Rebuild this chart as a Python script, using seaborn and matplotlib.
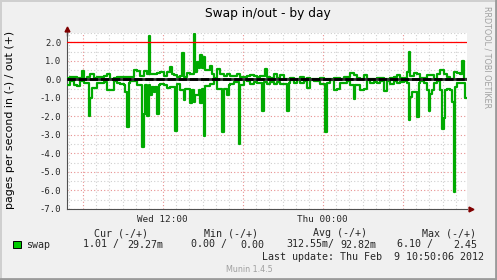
import numpy as np
import pandas as pd
import matplotlib
matplotlib.use("Agg")
import matplotlib.pyplot as plt
import matplotlib.dates as mdates
import matplotlib.transforms as mtransforms
from matplotlib.ticker import MultipleLocator, FuncFormatter
from matplotlib.patches import Rectangle
import seaborn as sns

# ---------------- data (7.5-minute samples, pages/s) ----------------
start_time = "2012-02-08 04:50:06"
sample_step = "450s"
swap_in = [
    0.29, 0.29, 0.10, 0.10, 0.30, 0.30, 0.38, 0.38, 0.10, 0.10, 0.20, 0.20, 0.20, 1.96, 1.02, 0.45, 0.45, 0.45, 0.20, 0.20,
    0.22, 0.22, 0.15, 0.15, 0.56, 0.56, 0.56, 0.56, 0.10, 0.10, 0.20, 0.20, 0.27, 0.27, 0.30, 0.70, 2.56, 0.20, 0.10, 0.10,
    0.10, 0.10, 0.30, 0.30, 0.30, 3.65, 1.87, 0.30, 1.96, 0.30, 0.87, 0.40, 0.70, 0.40, 1.87, 0.30, 0.25, 0.25, 0.33, 0.33,
    0.45, 0.45, 0.42, 0.42, 0.40, 2.78, 0.25, 0.25, 0.60, 0.60, 1.10, 0.50, 0.50, 0.50, 1.29, 0.60, 1.24, 0.87, 0.87, 0.60,
    1.29, 0.50, 3.05, 0.35, 0.35, 0.35, 0.25, 0.25, 0.05, 0.05, 0.50, 0.50, 0.50, 2.87, 0.50, 0.50, 0.84, 0.30, 0.25, 0.25,
    0.15, 0.15, 0.15, 3.50, 0.30, 0.30, 0.05, 0.05, 0.10, 0.10, 0.27, 0.27, 0.15, 0.15, 0.20, 0.20, 0.20, 1.69, 0.15, 0.15,
    0.23, 0.23, 0.15, 0.15, 0.25, 0.25, 0.15, 0.15, 0.25, 0.25, 0.27, 0.27, 1.73, 0.20, 0.05, 0.05, 0.20, 0.20, 0.05, 0.05,
    0.20, 0.20, 0.10, 0.10, 0.45, 0.45, 0.05, 0.05, 0.10, 0.10, 0.10, 0.10, 0.25, 0.25, 0.25, 2.82, 0.20, 0.20, 0.05, 0.05,
    0.56, 0.56, 0.50, 0.50, 0.20, 0.20, 0.20, 0.20, 0.10, 0.10, 0.30, 0.30, 1.05, 0.30, 0.30, 0.30, 0.60, 0.60, 0.50, 0.50,
    0.05, 0.05, 0.20, 0.20, 0.15, 0.15, 0.20, 0.20, 0.10, 0.10, 0.64, 0.64, 0.10, 0.10, 0.27, 0.27, 0.10, 0.10, 0.20, 0.20,
    0.15, 0.15, 0.10, 0.10, 0.20, 2.20, 0.96, 0.70, 0.70, 0.70, 2.05, 0.20, 0.10, 0.10, 0.20, 0.20, 0.60, 1.69, 0.78, 0.60,
    0.20, 0.20, 0.10, 0.10, 0.60, 2.70, 2.10, 0.60, 0.50, 0.50, 0.60, 1.24, 6.10, 0.40, 0.20, 0.20, 0.20, 0.20, 0.20, 1.01,
]
swap_out = [
    0.05, 0.05, 0.10, 0.10, 0.15, 0.15, 0.05, 0.05, 0.05, 0.44, 0.00, 0.00, 0.10, 0.10, 0.27, 0.27, 0.05, 0.05, 0.10, 0.10,
    0.10, 0.10, 0.20, 0.20, 0.27, 0.27, 0.00, 0.00, 0.08, 0.08, 0.12, 0.12, 0.15, 0.15, 0.10, 0.10, 0.15, 0.15, 0.15, 0.15,
    0.50, 0.50, 0.45, 0.45, 0.20, 0.20, 0.45, 0.45, 0.30, 2.35, 0.30, 0.30, 0.30, 0.30, 0.35, 0.35, 0.40, 0.40, 0.20, 0.20,
    0.38, 0.38, 0.67, 0.30, 0.22, 0.22, 0.15, 0.15, 0.20, 1.40, 0.12, 0.12, 0.35, 0.35, 0.27, 0.27, 2.45, 0.40, 0.95, 0.60,
    1.30, 0.60, 1.22, 0.52, 0.52, 0.52, 0.70, 0.30, 0.05, 0.05, 0.58, 0.58, 0.30, 0.30, 0.20, 0.20, 0.27, 0.27, 0.17, 0.17,
    0.17, 0.17, 0.27, 0.27, 0.12, 0.12, 0.10, 0.10, 0.17, 0.17, 0.25, 0.25, 0.20, 0.20, 0.15, 0.15, 0.20, 0.20, 0.20, 0.53,
    0.10, 0.10, 0.05, 0.05, 0.31, 0.31, 0.05, 0.05, 0.22, 0.22, 0.00, 0.00, 0.00, 0.00, 0.09, 0.09, 0.03, 0.03, 0.00, 0.00,
    0.12, 0.12, 0.03, 0.03, 0.09, 0.09, 0.00, 0.00, 0.00, 0.00, 0.00, 0.00, 0.09, 0.09, 0.00, 0.00, 0.03, 0.03, 0.00, 0.00,
    0.09, 0.09, 0.09, 0.09, 0.00, 0.00, 0.12, 0.12, 0.10, 0.10, 0.35, 0.35, 0.25, 0.25, 0.09, 0.09, 0.03, 0.03, 0.22, 0.22,
    0.00, 0.00, 0.00, 0.00, 0.03, 0.03, 0.09, 0.09, 0.09, 0.09, 0.00, 0.00, 0.00, 0.00, 0.09, 0.09, 0.12, 0.12, 0.22, 0.22,
    0.05, 0.05, 0.09, 0.09, 0.40, 1.49, 0.20, 0.20, 0.35, 0.35, 0.30, 0.30, 0.09, 0.09, 0.05, 0.05, 0.22, 0.22, 0.22, 0.22,
    0.00, 0.00, 0.30, 0.30, 0.50, 0.50, 0.27, 0.27, 0.15, 0.15, 0.00, 0.00, 0.40, 0.40, 0.33, 0.33, 0.30, 1.00, 0.03, 0.03,
]
warning_level = 2.0
title = "Swap in/out - by day"
ylabel = "pages per second in (-) / out (+)"
series_label = "swap"
headers = ["Cur (-/+)", "Min (-/+)", "Avg (-/+)", "Max (-/+)"]
stats_left = ["1.01 /", "0.00 /", "312.55m/", "6.10 /"]
stats_right = ["29.27m", "0.00", "92.82m", "2.45"]
last_update = "Last update: Thu Feb  9 10:50:06 2012"
footer = "Munin 1.4.5"
side_text = "RRDTOOL / TOBI OETIKER"

GREEN = "#00AA00"
W, H = 497, 280

n = len(swap_in)
times = pd.date_range(start_time, periods=n + 1, freq=sample_step)
df = pd.concat([
    pd.DataFrame({"time": times, "value": [-v for v in swap_in] + [-swap_in[-1]], "series": "in"}),
    pd.DataFrame({"time": times, "value": list(swap_out) + [swap_out[-1]], "series": "out"}),
], ignore_index=True)

sns.set_style("white")
plt.rcParams["font.family"] = ["DejaVu Sans"]

fig = plt.figure(figsize=(W / 100, H / 100), dpi=100, facecolor="#F0F0F0")
ax = fig.add_axes([67 / W, 1 - 209 / H, 400 / W, 176 / H])
ax.set_facecolor("white")

def px(x, y):
    return x / W, 1 - y / H

# grid
ax.yaxis.set_major_locator(MultipleLocator(1.0))
ax.yaxis.set_minor_locator(MultipleLocator(0.5))
ax.xaxis.set_major_locator(mdates.HourLocator(byhour=[0, 6, 12, 18]))
ax.xaxis.set_minor_locator(mdates.HourLocator())
ax.xaxis.set_major_formatter(FuncFormatter(
    lambda v, p: mdates.num2date(v).strftime("%a %H:%M") if mdates.num2date(v).hour in (0, 12) else ""))
ax.yaxis.set_major_formatter(FuncFormatter(lambda v, p: f"{v:.1f}"))
ax.grid(True, which="minor", color="#CFCFCF", linestyle=(0, (1, 2)), linewidth=0.8)
ax.grid(True, which="major", color="#E89090", linestyle=(0, (1, 2)), linewidth=0.8)
ax.set_axisbelow(True)

sns.lineplot(data=df, x="time", y="value", hue="series", palette={"in": GREEN, "out": GREEN},
             drawstyle="steps-post", linewidth=1.6, legend=False, ax=ax, zorder=3)

ax.axhline(warning_level, color="#FF0000", linewidth=0.9, zorder=4)
ax.axhline(0, color="#303030", linewidth=2.0, zorder=5)
ax.axhline(0, color="black", linewidth=2.0, linestyle=(0, (3, 1)), zorder=6)

ax.set_xlim(times[0], times[-1])
ax.set_ylim(-7.0, 2.5)
ax.set_xlabel("")
ax.set_ylabel("")

for s in ["top", "right"]:
    ax.spines[s].set_visible(False)
for s in ["left", "bottom"]:
    ax.spines[s].set_color("#505050")
    ax.spines[s].set_linewidth(0.8)

ax.tick_params(axis="both", which="both", direction="out", length=2, width=0.6, color="#505050",
               pad=2)
for lab in ax.get_yticklabels():
    lab.set_fontfamily("DejaVu Sans Mono")
    lab.set_fontsize(6.4)
for lab in ax.get_xticklabels():
    lab.set_fontfamily("DejaVu Sans Mono")
    lab.set_fontsize(6.7)

# axis arrows
up = mtransforms.offset_copy(ax.transAxes, fig=fig, x=0, y=3.2, units="points")
ax.plot([0], [1], marker="^", markersize=3.5, color="#800000", transform=up, clip_on=False, zorder=7)
ax.plot([0], [1], marker="|", markersize=6, color="#505050",
        transform=mtransforms.offset_copy(ax.transAxes, fig=fig, x=0, y=1, units="points"), clip_on=False)
rt = mtransforms.offset_copy(ax.transAxes, fig=fig, x=3.2, y=0, units="points")
ax.plot([1], [0], marker=">", markersize=3.5, color="#800000", transform=rt, clip_on=False, zorder=7)

# texts
fig.text(*px(268, 14), title, ha="center", va="center", fontsize=8.8, color="black")
fig.text(*px(10, 120), ylabel, ha="center", va="center", rotation=90, fontsize=7.9, color="black")
fig.text(*px(487.5, 57), side_text, ha="center", va="center", rotation=270, fontsize=5.8, color="#A0A0A0")

mono = "DejaVu Sans Mono"
fs = 7.2
header_x = [121, 230.5, 340, 449.5]
for hx, h in zip(header_x, headers):
    fig.text(*px(hx, 233), h, ha="center", va="center", family=mono, fontsize=fs)
left_x = [83, 191, 286, 397]
right_x = [163.5, 264, 376, 477]
for lx, rx, l, r in zip(left_x, right_x, stats_left, stats_right):
    fig.text(*px(lx, 244.5), l, ha="left", va="center", family=mono, fontsize=fs)
    fig.text(*px(rx, 244.5), r, ha="right", va="center", family=mono, fontsize=fs)
fig.add_artist(Rectangle(px(12.8, 248.3), 7.8 / W, 7.6 / H, transform=fig.transFigure,
                         facecolor="#00CC00", edgecolor="black", linewidth=0.7))
fig.text(*px(26.5, 244.5), series_label, ha="left", va="center", family=mono, fontsize=fs)
fig.text(*px(483.5, 256.5), last_update, ha="right", va="center", family=mono, fontsize=fs)
fig.text(*px(249, 269.5), footer, ha="center", va="center", fontsize=5.8, color="#A0A0A0")

# frame (3D shading)
fig.add_artist(plt.Line2D([0, 1], [1 - 0.5 / H] * 2, transform=fig.transFigure, color="#CFCFCF", linewidth=1.4))
fig.add_artist(plt.Line2D([0.5 / W] * 2, [0, 1], transform=fig.transFigure, color="#CFCFCF", linewidth=1.4))
fig.add_artist(plt.Line2D([0, 1], [1.2 / H] * 2, transform=fig.transFigure, color="#9A9A9A", linewidth=2.0))
fig.add_artist(plt.Line2D([1 - 1.2 / W] * 2, [0, 1], transform=fig.transFigure, color="#9A9A9A", linewidth=2.0))

fig.savefig("out.png", dpi=100, facecolor=fig.get_facecolor())
